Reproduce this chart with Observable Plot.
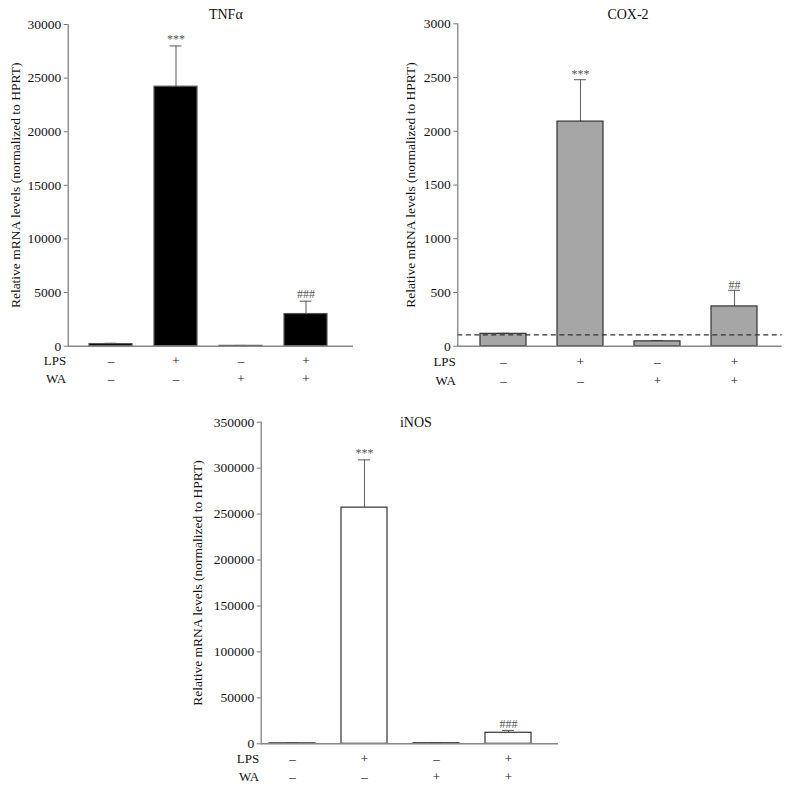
<!DOCTYPE html>
<html>
<head>
<meta charset="utf-8">
<script src="https://cdn.jsdelivr.net/npm/d3@7"></script>
<script src="https://cdn.jsdelivr.net/npm/@observablehq/plot@0.6"></script>
<style>
  html, body { margin: 0; padding: 0; background: white; }
  #wrap { position: relative; width: 790px; height: 793px; background: white; }
  #wrap svg { position: absolute; max-width: none; }
</style>
</head>
<body>
<div id="wrap"></div>
<script>
// ---- data ----
const categories = ["Control", "LPS", "WA", "LPS+WA"];
const lpsSigns = ["–", "+", "–", "+"];
const waSigns = ["–", "–", "+", "+"];

const tnfMean = [200, 24200, 30, 3000];
const tnfErr = [70, 3800, 40, 1200];
const tnfSig = ["", "***", "", "###"];
const tnfTicks = [0, 5000, 10000, 15000, 20000, 25000, 30000];

const cox2Mean = [115, 2090, 45, 370];
const cox2Err = [5, 390, 8, 150];
const cox2Sig = ["", "***", "", "##"];
const cox2Ticks = [0, 500, 1000, 1500, 2000, 2500, 3000];
const cox2Baseline = [105];

const inosMean = [500, 257000, 600, 12000];
const inosErr = [300, 52000, 300, 2500];
const inosSig = ["", "***", "", "###"];
const inosTicks = [0, 50000, 100000, 150000, 200000, 250000, 300000, 350000];

const yTitle = "Relative mRNA levels (normalized to HPRT)";
const FONT = "'Liberation Serif', 'Times New Roman', serif";

function panel(o) {
  const data = categories.map((c, i) => ({
    c, v: o.mean[i], top: o.mean[i] + o.err[i], sig: o.sig[i], lps: lpsSigns[i], wa: waSigns[i]
  }));
  const step = (o.xr[1] - o.xr[0]) / categories.length;
  const bw = step * (1 - o.pad);
  const inset = Math.max(0, (bw - 12) / 2);
  const marks = [
    Plot.axisY(o.ticks, {
      tickSize: 4, tickPadding: 3, stroke: "#777", fill: "#111",
      tickFormat: d => String(d), fontSize: 13.5,
      label: yTitle, labelAnchor: "center", labelArrow: "none", labelOffset: o.lo
    }),
    Plot.ruleX(data, {x: "c", y1: "v", y2: "top", stroke: "#666", strokeWidth: 1.1}),
    Plot.tickY(data, {x: "c", y: "top", stroke: "#666", strokeWidth: 1.1, insetLeft: inset, insetRight: inset}),
    Plot.barY(data, {x: "c", y: "v", fill: o.fill, stroke: o.stroke, strokeWidth: 1.2})
  ];
  if (o.dashed) marks.push(Plot.ruleY(o.dashed, {stroke: "#333", strokeDasharray: "5,3.5", strokeWidth: 1.1}));
  marks.push(
    Plot.frame({anchor: "left", stroke: "#777", strokeWidth: 1.2}),
    Plot.ruleY([0], {stroke: "#888", strokeWidth: 1.4}),
    Plot.text(data, {x: "c", y: "top", text: "sig", dy: o.sdy, fontSize: 12, fill: "#555", lineAnchor: "middle", letterSpacing: "2.5px"}),
    Plot.text(data, {x: "c", text: "lps", frameAnchor: "bottom", dy: o.d1, lineAnchor: "middle", fontSize: 13, fill: "#111"}),
    Plot.text(data, {x: "c", text: "wa", frameAnchor: "bottom", dy: o.d2, lineAnchor: "middle", fontSize: 13, fill: "#111"}),
    Plot.text(["LPS"], {text: d => d, frameAnchor: "bottom-left", textAnchor: "end", dx: -2, dy: o.d1, lineAnchor: "middle", fontSize: 13, fill: "#111"}),
    Plot.text(["WA"], {text: d => d, frameAnchor: "bottom-left", textAnchor: "end", dx: -2, dy: o.d2, lineAnchor: "middle", fontSize: 13, fill: "#111"}),
    Plot.text([o.title], {text: d => d, frameAnchor: "top", dx: o.tdx, dy: o.tdy, lineAnchor: "middle", fontSize: 14, fill: "#111"})
  );
  const svg = Plot.plot({
    width: o.w, height: o.h,
    marginLeft: o.ml, marginRight: o.mr, marginTop: o.mt, marginBottom: o.mb,
    style: {fontFamily: FONT, fontSize: "13px", color: "#111", background: "transparent", overflow: "visible"},
    x: {domain: categories, range: o.xr, paddingInner: o.pad, paddingOuter: o.pad / 2, axis: null},
    y: {domain: [0, o.ticks[o.ticks.length - 1]], axis: null},
    marks
  });
  svg.style.left = o.left + "px";
  svg.style.top = o.top + "px";
  return svg;
}

const wrap = document.getElementById("wrap");
wrap.appendChild(panel({
  left: 0, top: 0, w: 395, h: 390, ml: 67.7, mr: 42, mt: 24, mb: 44.3,
  xr: [76.5, 338.5], pad: 0.34, mean: tnfMean, err: tnfErr, sig: tnfSig, ticks: tnfTicks,
  fill: "#000", stroke: "#555", lo: 58, sdy: -7, d1: 14.5, d2: 33, title: "TNFα", tdx: 15, tdy: -10
}));
wrap.appendChild(panel({
  left: 395, top: 0, w: 395, h: 390, ml: 62.3, mr: 8.3, mt: 23.3, mb: 44.3,
  xr: [69.5, 377.5], pad: 0.4, mean: cox2Mean, err: cox2Err, sig: cox2Sig, ticks: cox2Ticks,
  fill: "#a6a6a6", stroke: "#333", lo: 52, sdy: -5.5, d1: 16, d2: 34.5, title: "COX-2", tdx: 8, tdy: -9.5,
  dashed: cox2Baseline
}));
wrap.appendChild(panel({
  left: 180, top: 400, w: 420, h: 393, ml: 80.7, mr: 42, mt: 21.7, mb: 49.7,
  xr: [76, 364], pad: 0.36, mean: inosMean, err: inosErr, sig: inosSig, ticks: inosTicks,
  fill: "#fff", stroke: "#333", lo: 69, sdy: -6.5, d1: 15.5, d2: 33.5, title: "iNOS", tdx: 6, tdy: 0
}));
</script>
</body>
</html>
